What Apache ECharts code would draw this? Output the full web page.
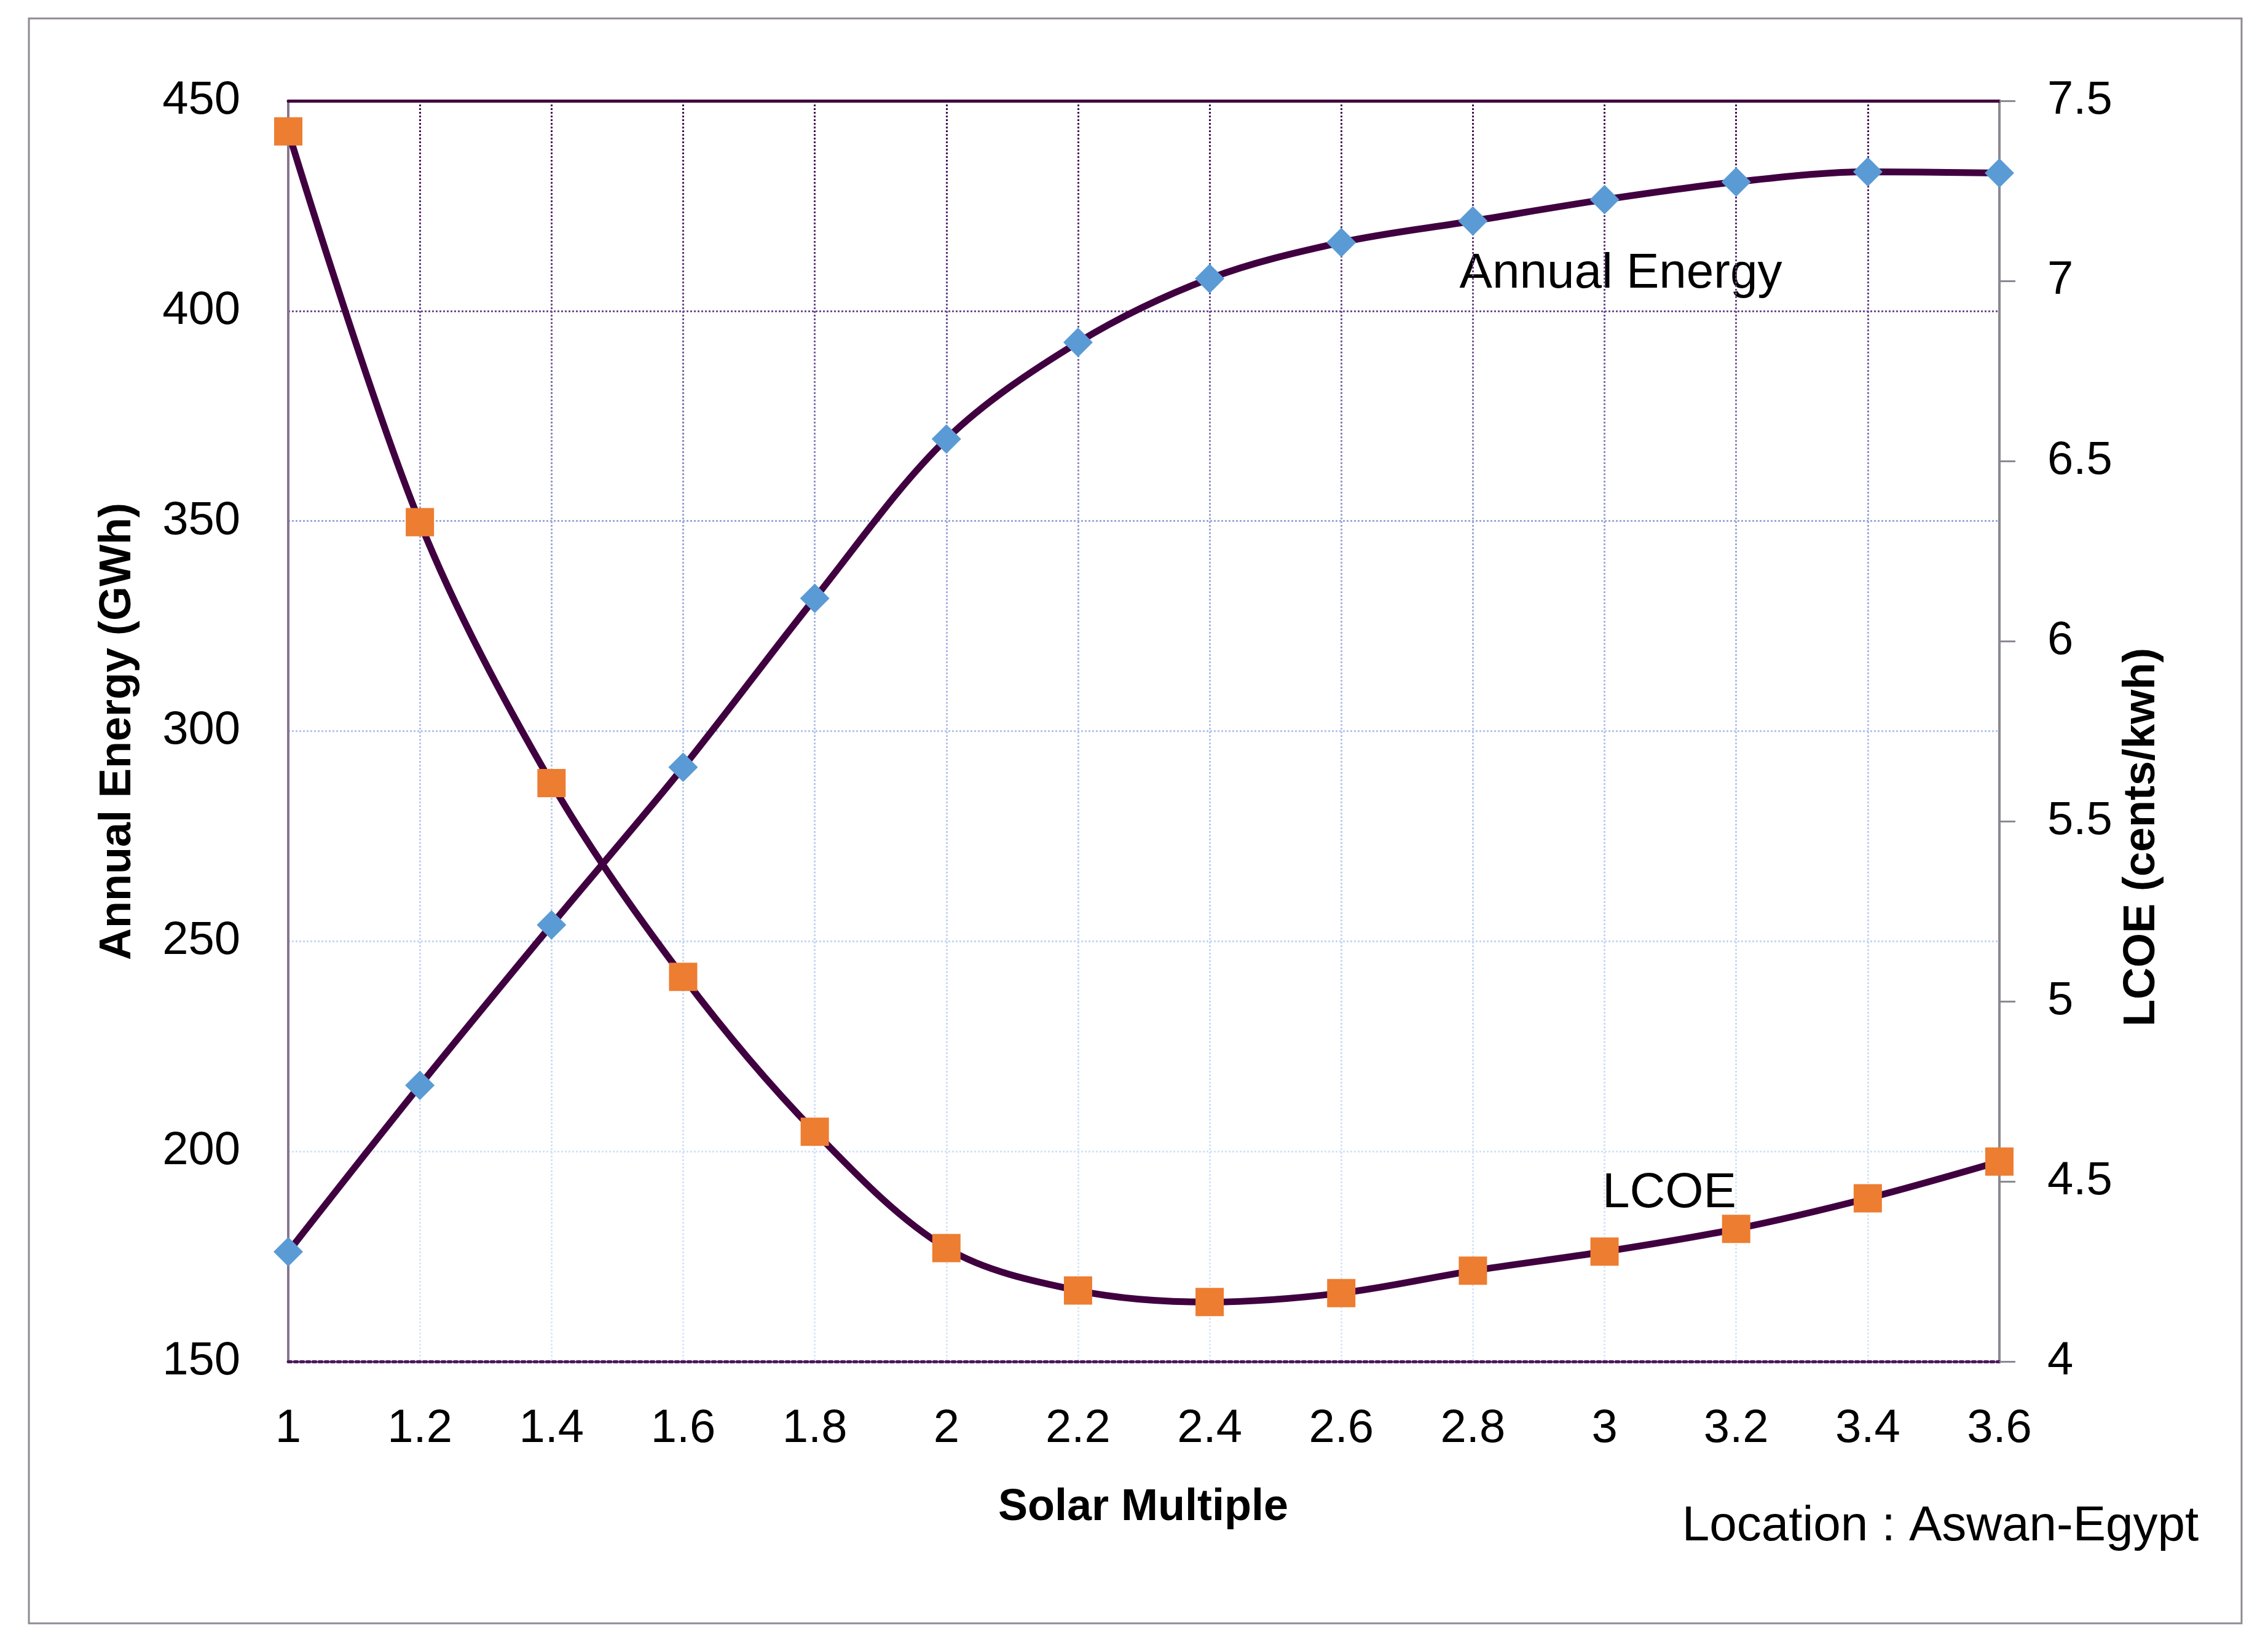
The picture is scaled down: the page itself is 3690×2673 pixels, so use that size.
<!DOCTYPE html>
<html>
<head>
<meta charset="utf-8">
<script src="https://cdn.jsdelivr.net/npm/echarts@6/dist/echarts.min.js"></script>
<style>
html,body{margin:0;padding:0;background:#fff;}
#chart{width:3690px;height:2673px;}
</style>
</head>
<body>
<div id="chart"></div>
<script>
// ---- data ----
var solarMultiple = [1, 1.2, 1.4, 1.6, 1.8, 2, 2.2, 2.4, 2.6, 2.8, 3, 3.2, 3.4, 3.6];
var annualEnergy = [176.1, 215.7, 253.9, 291.4, 331.6, 369.5, 392.5, 407.7, 416.3, 421.4, 426.5, 430.7, 433.1, 432.8];
var lcoe = [7.415, 6.33, 5.606, 5.068, 4.638, 4.315, 4.197, 4.165, 4.19, 4.252, 4.305, 4.368, 4.453, 4.555];
var leftTicks = {min: 150, max: 450, step: 50};
var rightTicks = {min: 4, max: 7.5, step: 0.5};
var xTicks = {min: 1, max: 3.6, step: 0.2};
var texts = {
  xTitle: 'Solar Multiple',
  yLeftTitle: 'Annual Energy (GWh)',
  yRightTitle: 'LCOE (cents/kwh)',
  energyLabel: 'Annual Energy',
  lcoeLabel: 'LCOE',
  location: 'Location : Aswan-Egypt'
};

var FONT = '"Liberation Sans", Arial, sans-serif';
var chart = echarts.init(document.getElementById('chart'), null, {renderer: 'canvas'});

var gridTop = 164, gridBottomPx = 2215;
var gridGrad = {
  type: 'linear', x: 0, y: gridTop, x2: 0, y2: gridBottomPx, global: true,
  colorStops: [
    {offset: 0, color: '#3f0a4a'},
    {offset: 0.17, color: '#6e4f90'},
    {offset: 0.33, color: '#9ea6d8'},
    {offset: 0.5, color: '#b4c5ec'},
    {offset: 0.67, color: '#c4d8f4'},
    {offset: 0.83, color: '#d2e3f8'},
    {offset: 1, color: '#dbe8fa'}
  ]
};

function pairs(xs, ys) { return xs.map(function (x, i) { return [x, ys[i]]; }); }

var labelStyle = {color: '#000', fontFamily: FONT, fontSize: 76};

var option = {
  animation: false,
  backgroundColor: '#fff',
  grid: {left: 469, right: 3690 - 3253, top: gridTop, bottom: 2673 - gridBottomPx, containLabel: false},
  xAxis: [{
    type: 'value', position: 'bottom',
    min: xTicks.min, max: xTicks.max, interval: xTicks.step,
    axisLine: {show: true, lineStyle: {color: '#4a1a5a', width: 5, type: 'dotted'}},
    axisTick: {show: false},
    axisLabel: Object.assign({margin: 72}, labelStyle),
    splitLine: {show: true, lineStyle: {color: gridGrad, width: 3, type: 'dotted'}}
  }, {
    type: 'value', position: 'top',
    min: xTicks.min, max: xTicks.max, interval: xTicks.step,
    axisLine: {show: true, lineStyle: {color: '#3f003f', width: 5}},
    axisTick: {show: false}, axisLabel: {show: false}, splitLine: {show: false}
  }],
  yAxis: [{
    type: 'value', position: 'left',
    min: leftTicks.min, max: leftTicks.max, interval: leftTicks.step,
    axisLine: {show: true, lineStyle: {color: '#857590', width: 4}},
    axisTick: {show: false},
    axisLabel: Object.assign({margin: 78}, labelStyle),
    splitLine: {show: true, lineStyle: {color: gridGrad, width: 3, type: 'dotted'}}
  }, {
    type: 'value', position: 'right',
    min: rightTicks.min, max: rightTicks.max, interval: rightTicks.step,
    axisLine: {show: true, lineStyle: {color: '#8c8890', width: 4}},
    axisTick: {show: true, inside: false, length: 26, lineStyle: {color: '#8c8890', width: 3}},
    axisLabel: Object.assign({margin: 78}, labelStyle),
    splitLine: {show: false}
  }],
  series: [{
    name: 'Annual Energy', type: 'line', xAxisIndex: 0, yAxisIndex: 0,
    data: pairs(solarMultiple, annualEnergy),
    smooth: 0.33,
    lineStyle: {color: '#400040', width: 11},
    symbol: 'diamond', symbolSize: 48, showAllSymbol: true,
    itemStyle: {color: '#5b9bd5', borderWidth: 0},
    z: 3
  }, {
    name: 'LCOE', type: 'line', xAxisIndex: 0, yAxisIndex: 1,
    data: pairs(solarMultiple, lcoe),
    smooth: 0.33,
    lineStyle: {color: '#400040', width: 11},
    symbol: 'rect', symbolSize: 46, showAllSymbol: true,
    itemStyle: {color: '#ed7d31', borderWidth: 0},
    z: 3
  }],
  graphic: [
    {type: 'rect', z: -10, shape: {x: 47, y: 30, width: 3600, height: 2611},
     style: {fill: 'none', stroke: '#8f8a93', lineWidth: 3}},
    {type: 'text', x: 1860, y: 2453, style: {text: texts.xTitle, x: 0, y: 0, fill: '#000',
      font: 'bold 72px ' + FONT, textAlign: 'center', textVerticalAlign: 'middle', align: 'center', verticalAlign: 'middle'}},
    {type: 'text', x: 192, y: 1190, rotation: Math.PI / 2, style: {text: texts.yLeftTitle, x: 0, y: 0, fill: '#000',
      font: 'bold 72px ' + FONT, textAlign: 'center', textVerticalAlign: 'middle', align: 'center', verticalAlign: 'middle'}},
    {type: 'text', x: 3485, y: 1362, rotation: Math.PI / 2, style: {text: texts.yRightTitle, x: 0, y: 0, fill: '#000',
      font: 'bold 72px ' + FONT, textAlign: 'center', textVerticalAlign: 'middle', align: 'center', verticalAlign: 'middle'}},
    {type: 'text', x: 2637, y: 446, style: {text: texts.energyLabel, x: 0, y: 0, fill: '#000',
      font: '80px ' + FONT, textAlign: 'center', textVerticalAlign: 'middle', align: 'center', verticalAlign: 'middle'}},
    {type: 'text', x: 2716, y: 1942, style: {text: texts.lcoeLabel, x: 0, y: 0, fill: '#000',
      font: '80px ' + FONT, textAlign: 'center', textVerticalAlign: 'middle', align: 'center', verticalAlign: 'middle'}},
    {type: 'text', x: 3157, y: 2484, style: {text: texts.location, x: 0, y: 0, fill: '#000',
      font: '80px ' + FONT, textAlign: 'center', textVerticalAlign: 'middle', align: 'center', verticalAlign: 'middle'}}
  ]
};
chart.setOption(option);
</script>
</body>
</html>
